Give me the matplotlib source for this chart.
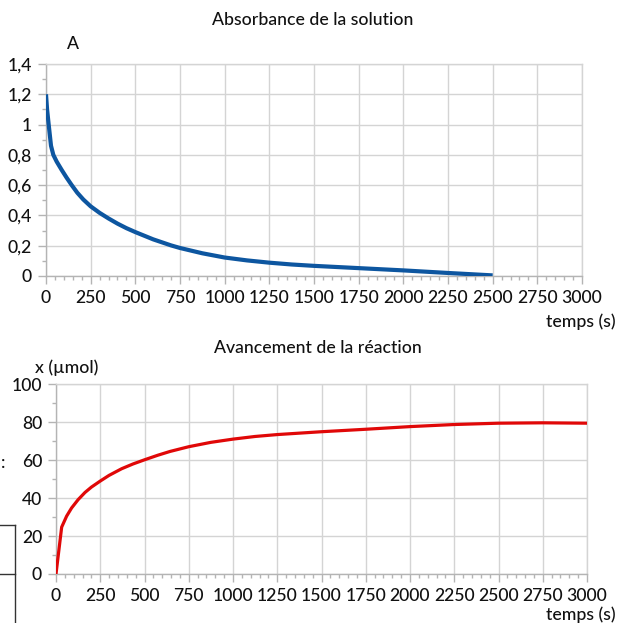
import matplotlib
matplotlib.use("Agg")
import matplotlib.pyplot as plt
from matplotlib.ticker import MultipleLocator
from matplotlib.lines import Line2D

plt.rcParams['font.family'] = ['Lato', 'DejaVu Sans']
plt.rcParams['font.weight'] = 'medium'

# ---- data ----
t_abs = [0, 6, 15, 28, 41, 60, 88, 115, 144, 175, 209, 250, 300, 350, 400, 450,
         500, 600, 700, 750, 875, 1000, 1125, 1250, 1375, 1500, 1750, 2000,
         2250, 2500]
absorbance = [1.2, 1.1, 1.0, 0.86, 0.80, 0.755, 0.70, 0.65, 0.60, 0.55, 0.505,
              0.46, 0.417, 0.38, 0.346, 0.316, 0.29, 0.242, 0.202, 0.185, 0.15,
              0.122, 0.103, 0.088, 0.076, 0.067, 0.052, 0.037, 0.02, 0.004]

t_x = [0, 32, 60, 88, 125, 164, 200, 250, 300, 371, 435, 500, 575, 644, 750,
       875, 1000, 1125, 1250, 1500, 1750, 2000, 2250, 2500, 2750, 3000]
avancement = [0, 24.7, 30.5, 34.8, 39.2, 43, 45.8, 49, 52, 55.5, 58, 60.2,
              62.6, 64.6, 67.1, 69.4, 71.1, 72.5, 73.5, 75.0, 76.3, 77.7, 78.8,
              79.5, 79.7, 79.5]

x_ticks = [0, 250, 500, 750, 1000, 1250, 1500, 1750, 2000, 2250, 2500, 2750, 3000]
a_ticks = [0, 0.2, 0.4, 0.6, 0.8, 1.0, 1.2, 1.4]
a_labels = ["0", "0,2", "0,4", "0,6", "0,8", "1", "1,2", "1,4"]
x_ticks_y = [0, 20, 40, 60, 80, 100]

W, H = 617, 623
fig = plt.figure(figsize=(W / 100, H / 100), dpi=100)

def px_axes(left, top, right, bottom):
    return fig.add_axes([left / W, 1 - bottom / H, (right - left) / W, (bottom - top) / H])

GRID = '#d4d4d4'
SPINE = '#b4b4b4'
FS = 12.7
TXT = '#111111'

def style(ax):
    for s in ax.spines.values():
        s.set_color(GRID)
        s.set_linewidth(1.0)
    ax.spines['left'].set_color(SPINE)
    ax.spines['bottom'].set_color(SPINE)
    ax.grid(True, which='major', color=GRID, linewidth=1.0)
    ax.set_axisbelow(True)
    ax.tick_params(which='major', length=6, width=1, color=SPINE, labelsize=FS,
                   labelcolor=TXT, pad=4)
    ax.tick_params(which='minor', length=3, width=1, color=SPINE)

# ---- top chart ----
ax1 = px_axes(46, 64, 582, 276)
ax1.plot(t_abs, absorbance, color='#0d56a0', linewidth=3.0, solid_capstyle='butt',
         solid_joinstyle='round', zorder=3)
ax1.set_xlim(0, 3000)
ax1.set_ylim(0, 1.4)
ax1.set_xticks(x_ticks)
ax1.set_xticklabels([str(v) for v in x_ticks])
ax1.set_yticks(a_ticks)
ax1.set_yticklabels(a_labels)
ax1.xaxis.set_minor_locator(MultipleLocator(50))
ax1.yaxis.set_minor_locator(MultipleLocator(0.1))
style(ax1)

fig.text(313 / W, 1 - 20 / H, "Absorbance de la solution", ha='center', va='center',
         fontsize=FS, color=TXT)
fig.text(73 / W, 1 - 44 / H, "A", ha='center', va='center', fontsize=FS, color=TXT)
fig.text(616 / W, 1 - 322 / H, "temps (s)", ha='right', va='center', fontsize=FS,
         color=TXT)

# ---- bottom chart ----
ax2 = px_axes(56, 384.3, 587, 574)
ax2.plot(t_x, avancement, color='#e00808', linewidth=2.3, solid_joinstyle='round',
         zorder=3)
ax2.set_xlim(0, 3000)
ax2.set_ylim(0, 100)
ax2.set_xticks(x_ticks)
ax2.set_xticklabels([str(v) for v in x_ticks])
ax2.set_yticks(x_ticks_y)
ax2.set_yticklabels([str(v) for v in x_ticks_y])
ax2.xaxis.set_minor_locator(MultipleLocator(50))
ax2.yaxis.set_minor_locator(MultipleLocator(10))
style(ax2)

fig.text(318 / W, 1 - 348 / H, "Avancement de la réaction", ha='center', va='center',
         fontsize=FS, color=TXT)
fig.text(35 / W, 1 - 368 / H, "x (µmol)", ha='left', va='center', fontsize=FS,
         color=TXT)
fig.text(616 / W, 1 - 615 / H, "temps (s)", ha='right', va='center', fontsize=FS,
         color=TXT)

# ---- cropped artefacts at left edge ----
fig.add_artist(Line2D([15 / W, 15 / W], [1 - 525 / H, 0], color='#333333', lw=1.0))
fig.add_artist(Line2D([0, 15 / W], [1 - 525 / H, 1 - 525 / H], color='#333333', lw=1.0))
fig.add_artist(Line2D([0, 15 / W], [1 - 574 / H, 1 - 574 / H], color='#333333', lw=1.0))
fig.text(1 / W, 1 - 463 / H, ":", ha='left', va='center', fontsize=FS, color=TXT)

fig.savefig("out.png", dpi=100)
